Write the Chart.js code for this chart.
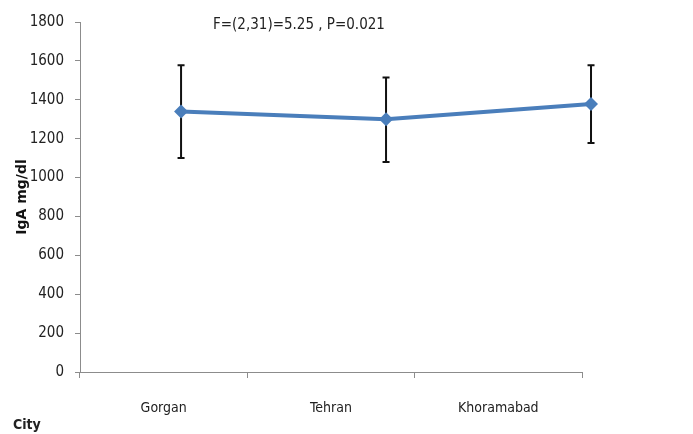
<!DOCTYPE html>
<html>
<head>
<meta charset="utf-8">
<script src="https://cdn.jsdelivr.net/npm/chart.js@4"></script>
<style>
  html, body { margin: 0; padding: 0; background: #fff; }
  #wrap { width: 693px; height: 434px; }
</style>
</head>
<body>
<div id="wrap"><canvas id="chart"></canvas></div>
<script>
"use strict";

var cities = ["Gorgan", "Tehran", "Khoramabad"];
var meanIgA = [1340, 1300, 1378];
var upperIgA = [1578, 1515, 1578];
var lowerIgA = [1100, 1080, 1178];
var yTicks = [0, 200, 400, 600, 800, 1000, 1200, 1400, 1600, 1800];
var statsText = "F=(2,31)=5.25 , P=0.021";

var narrow = "'DejaVu Sans Condensed', 'Open Sans', sans-serif";

var errorBars = {
	id: "errorBars",
	afterLayout: function(chart) {
		// last marker sits past the axis end, let it be drawn
		chart.chartArea.right += 40;
	},
	beforeDatasetsDraw: function(chart) {
		var ctx = chart.ctx;
		var xs = chart.scales.xd, ys = chart.scales.y;
		ctx.save();
		ctx.strokeStyle = "#111";
		ctx.lineWidth = 2;
		for (var i = 0; i < meanIgA.length; i++) {
			var x = xs.getPixelForValue(i);
			var top = ys.getPixelForValue(upperIgA[i]);
			var bot = ys.getPixelForValue(lowerIgA[i]);
			ctx.beginPath();
			ctx.moveTo(x, top); ctx.lineTo(x, bot);
			ctx.moveTo(x - 3.5, top); ctx.lineTo(x + 3.5, top);
			ctx.moveTo(x - 3.5, bot); ctx.lineTo(x + 3.5, bot);
			ctx.stroke();
		}
		ctx.restore();
	},
	afterDraw: function(chart) {
		var ctx = chart.ctx;
		ctx.save();
		ctx.fillStyle = "#222";
		ctx.textBaseline = "middle";
		ctx.font = "15px " + narrow;
		ctx.fillText(statsText, 213, 25);
		ctx.font = "bold 14px " + narrow;
		ctx.fillText("City", 13, 425);
		ctx.restore();
	}
};

function buildPoints() {
	return meanIgA.map(function(v, i) { return { x: i, y: v }; });
}

var ctx = document.getElementById("chart").getContext("2d");
new Chart(ctx, {
	type: "line",
	data: {
		labels: cities,
		datasets: [{
			data: buildPoints(),
			xAxisID: "xd",
			borderColor: "#4a7ebb",
			backgroundColor: "#4a7ebb",
			borderWidth: 4,
			pointStyle: "rectRot",
			pointRadius: 7,
			pointBorderWidth: 0,
			tension: 0,
			clip: false
		}]
	},
	options: {
		responsive: true,
		maintainAspectRatio: false,
		animation: false,
		layout: { padding: { left: 0, top: 22, right: 111, bottom: 0 } },
		plugins: { legend: { display: false }, tooltip: { enabled: false } },
		scales: {
			x: {
				type: "category",
				offset: true,
				grid: { offset: true, drawOnChartArea: false, tickLength: 6, color: "#8c8c8c" },
				border: { color: "#8c8c8c" },
				ticks: { color: "#222", padding: 22, font: { size: 14, family: narrow } },
				afterFit: function(s) { s.height = 62; }
			},
			xd: {
				type: "linear",
				display: false,
				min: -0.493,
				max: 1.956
			},
			y: {
				min: 0,
				max: 1800,
				afterBuildTicks: function(s) { s.ticks = yTicks.map(function(v) { return { value: v }; }); },
				grid: { drawOnChartArea: false, tickLength: 5, color: "#8c8c8c" },
				border: { color: "#8c8c8c" },
				ticks: {
					color: "#222",
					padding: 11,
					font: { size: 15, family: narrow },
					callback: function(v) { return String(v); }
				},
				title: {
					display: true,
					text: "IgA mg/dl",
					color: "#111",
					padding: { top: 14, bottom: 0 },
					font: { size: 14, weight: "bold", family: "'DejaVu Sans', sans-serif" }
				},
				afterFit: function(s) { s.width = 80; }
			}
		}
	},
	plugins: [errorBars]
});
</script>
</body>
</html>
